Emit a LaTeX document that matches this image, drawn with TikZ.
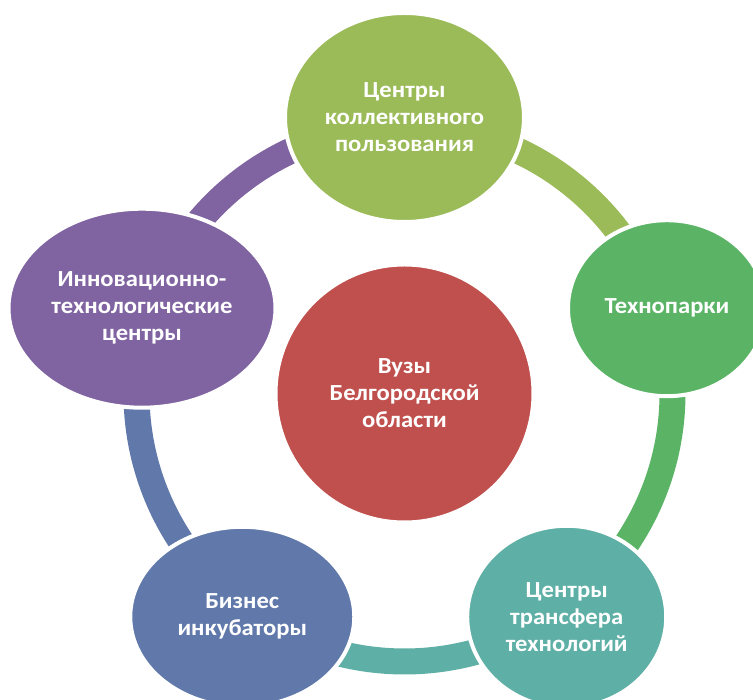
\documentclass[tikz,border=0pt]{standalone}
\usepackage{fontspec}
\setmainfont{Carlito}[FakeStretch=1.07]
\usetikzlibrary{calc,positioning,shapes.geometric,backgrounds}

\definecolor{vuzred}{HTML}{C0504D}
\definecolor{olivegreen}{HTML}{9BBB59}
\definecolor{parkgreen}{HTML}{5BB466}
\definecolor{transteal}{HTML}{5EAFA5}
\definecolor{bizblue}{HTML}{6179AA}
\definecolor{innopurple}{HTML}{8064A2}

\tikzset{
  bubble/.style={ellipse, draw=white, line width=4pt, inner sep=0pt, align=center,
    text=white, font=\bfseries\fontsize{23}{27}\selectfont},
  ring/.style={line width=26pt},
}

\begin{document}
\begin{tikzpicture}[x=1pt,y=1pt]
 \clip (-404.5,-306.5) rectangle (348.5,393.5);
 \coordinate (origo) at (0,0);

    % centre
    \node[bubble, circle, fill=vuzred, minimum size=258pt] (vuz) at (origo) {Вузы\\Белгородской\\области};

    % outer bubbles
    \node[bubble, fill=olivegreen, minimum width=239pt, minimum height=209pt] (ckp) at (90:276) {Центры\\коллективного\\пользования};
    \node[bubble, fill=parkgreen, minimum width=198pt, minimum height=176pt] (park) at (18:276) {Технопарки};
    \node[bubble, fill=transteal, minimum width=199pt, minimum height=182pt] (ctt) at (-54:276) {Центры\\трансфера\\технологий};
    \node[bubble, fill=bizblue, minimum width=224pt, minimum height=180pt] (biz) at (-126:276) {Бизнес\\инкубаторы};
    \node[bubble, fill=innopurple, minimum width=267pt, minimum height=199pt] (itc) at (162:276) {Инновационно-\\технологические\\центры};

    % ring segments behind the bubbles
    \begin{scope}[on background layer]
    \draw[ring,olivegreen] (vuz.center) ++(90:268) arc[start angle=90, end angle=18, radius=268];
    \draw[ring,parkgreen] (vuz.center) ++(18:268) arc[start angle=18, end angle=-54, radius=268];
    \draw[ring,transteal] (vuz.center) ++(-54:268) arc[start angle=-54, end angle=-126, radius=268];
    \draw[ring,bizblue] (vuz.center) ++(-126:268) arc[start angle=-126, end angle=-198, radius=268];
    \draw[ring,innopurple] (vuz.center) ++(162:268) arc[start angle=162, end angle=90, radius=268];
    \end{scope}

\end{tikzpicture}
\end{document}
